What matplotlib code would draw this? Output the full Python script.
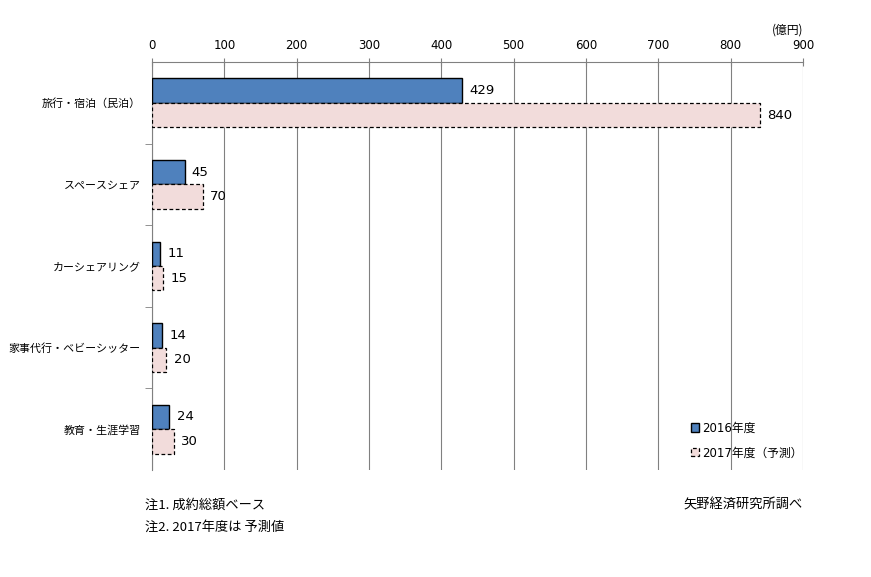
import matplotlib
matplotlib.use("Agg")
import matplotlib.pyplot as plt
import numpy as np

plt.rcParams['font.family'] = ['Noto Sans CJK JP', 'DejaVu Sans']
NUM = ['DejaVu Sans', 'Noto Sans CJK JP']

categories = ["旅行・宿泊（民泊）", "スペースシェア", "カーシェアリング", "家事代行・ベビーシッター", "教育・生涯学習"]
values_2016 = [429, 45, 11, 14, 24]
values_2017 = [840, 70, 15, 20, 30]
xticks = [0, 100, 200, 300, 400, 500, 600, 700, 800, 900]

fig = plt.figure(figsize=(8.71, 5.77), dpi=100)
ax = fig.add_axes([152/871, 1-470/577, (803-152)/871, (470-62)/577])

y = np.arange(len(categories))
h = 0.3
ax.barh(y - h/2, values_2016, height=h, color='#4F81BD', edgecolor='black', linewidth=1.0, label='2016年度', zorder=3)
ax.barh(y + h/2, values_2017, height=h, color='#F2DCDB', edgecolor='black', linewidth=0.9, linestyle=(0, (3, 2)), label='2017年度（予測）', zorder=3)

for yi, v in zip(y, values_2016):
    ax.text(v + 10, yi - h/2, str(v), va='center', ha='left', fontsize=9.5, family=NUM, zorder=4)
for yi, v in zip(y, values_2017):
    ax.text(v + 10, yi + h/2, str(v), va='center', ha='left', fontsize=9.5, family=NUM, zorder=4)

ax.set_xlim(0, 900)
ax.set_ylim(len(categories) - 0.5, -0.5)
ax.set_xticks(xticks)
ax.xaxis.tick_top()
ax.tick_params(axis='x', direction='inout', length=6, color='#808080', labelsize=8.5, pad=4)
for lab in ax.get_xticklabels():
    lab.set_family(NUM)
ax.grid(axis='x', color='#808080', linewidth=0.8, zorder=0)
ax.set_yticks(y)
ax.set_yticklabels(categories, fontsize=7.9)
ax.set_yticks(np.arange(0.5, len(categories) - 0.5, 1), minor=True)
ax.tick_params(axis='y', which='major', length=0, pad=8)
ax.tick_params(axis='y', which='minor', length=5, color='#808080', direction='out')
for s in ['right', 'bottom']:
    ax.spines[s].set_visible(False)
ax.spines['left'].set_color('#808080')
ax.spines['top'].set_color('#808080')

fig.text(788/871, 1-30/577, '(億円)', fontsize=8.5, ha='center', va='center')

leg = ax.legend(loc='lower left', bbox_to_anchor=(528/651, 0.0), frameon=False, fontsize=8.5,
                handlelength=0.7, handleheight=0.7, handletextpad=0.3, labelspacing=1.0,
                prop={'family': NUM, 'size': 8.5})

fig.text(145/871, 1-505/577, '注1. 成約総額ベース', fontsize=9.5, ha='left', va='center')
fig.text(145/871, 1-527/577, '注2. 2017年度は 予測値', fontsize=9.5, ha='left', va='center')
fig.text(803/871, 1-505/577, '矢野経済研究所調べ', fontsize=9.5, ha='right', va='center')

fig.savefig('out.png', dpi=100)
